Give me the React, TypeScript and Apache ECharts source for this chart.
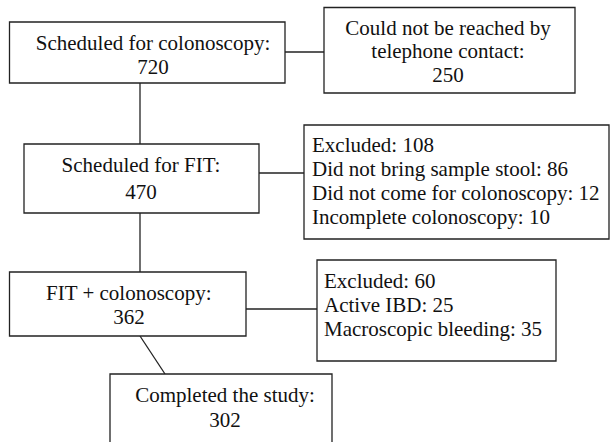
import React, { useEffect, useRef } from "react";
import * as echarts from "echarts";

// Flow stages (main column) and their counts
const stageLabels = ["Scheduled for colonoscopy:", "Scheduled for FIT:", "FIT + colonoscopy:", "Completed the study:"];
const stageCounts = [720, 470, 362, 302];

// Side boxes: exclusions
const lostLines = ["Could not be reached by", "telephone contact:", "250"];
const excl1Labels = ["Excluded", "Did not bring sample stool", "Did not come for colonoscopy", "Incomplete colonoscopy"];
const excl1Counts = [108, 86, 12, 10];
const excl2Labels = ["Excluded", "Active IBD", "Macroscopic bleeding"];
const excl2Counts = [60, 25, 35];

// Layout (positions only)
const stageBoxes = [
  { x: 9.5, y: 22, w: 275.5, h: 61, tx: 153, ty: [43, 67] },
  { x: 24, y: 144, w: 235, h: 69, tx: 141, ty: [165, 192] },
  { x: 9.5, y: 272, w: 236.5, h: 64, tx: 129, ty: [293, 317] },
  { x: 110, y: 374, w: 222, h: 90, tx: 225, ty: [395, 420] },
];
const lostBox = { x: 324, y: 7.5, w: 251, h: 85.5, tx: 448, ty: [28, 51, 75] };
const excl1Box = { x: 304, y: 125, w: 305, h: 114, tx: 312, ty: [145, 169, 193, 217] };
const excl2Box = { x: 317, y: 260, w: 239, h: 101, tx: 324, ty: [281, 305, 329] };

const FONT_SIZE = 21;
const FONT_FAMILY = "Liberation Serif";
const STROKE = "#222";
const LW = 1.3;

let ctx: CanvasRenderingContext2D | null = null;
function measure(str: string): number {
  if (!ctx) ctx = document.createElement("canvas").getContext("2d");
  if (!ctx) return str.length * FONT_SIZE * 0.45;
  ctx.font = `${FONT_SIZE}px "${FONT_FAMILY}"`;
  return ctx.measureText(str).width;
}

function rect(b: { x: number; y: number; w: number; h: number }) {
  return {
    type: "rect",
    shape: { x: b.x, y: b.y, width: b.w, height: b.h },
    style: { fill: "#fff", stroke: STROKE, lineWidth: LW },
  };
}
// x/y are the visual centre (for centred) or left edge (for left) and the line's middle
function text(str: string, x: number, cy: number, centred: boolean) {
  const left = centred ? x - measure(str) / 2 : x;
  return {
    type: "text",
    style: {
      text: str,
      x: left,
      y: cy - FONT_SIZE / 2,
      fontSize: FONT_SIZE,
      fontFamily: FONT_FAMILY,
      fill: "#111",
    },
  };
}
function line(x1: number, y1: number, x2: number, y2: number) {
  return {
    type: "line",
    shape: { x1, y1, x2, y2 },
    style: { stroke: STROKE, lineWidth: LW },
  };
}

export default function App() {
  const ref = useRef<HTMLDivElement>(null);
  useEffect(() => {
    if (!ref.current) return;
    const chart = echarts.init(ref.current, null, { renderer: "svg" });
    const els: any[] = [];
    // connectors
    els.push(line(140, 83, 140, 144));
    els.push(line(140, 213, 140, 272));
    els.push(line(140, 336, 165, 374));
    els.push(line(285, 52, 324, 52));
    els.push(line(259, 173, 304, 173));
    els.push(line(246, 309, 317, 309));
    // stage boxes
    stageBoxes.forEach((b, i) => {
      els.push(rect(b));
      els.push(text(stageLabels[i], b.tx, b.ty[0], true));
      els.push(text(String(stageCounts[i]), b.tx, b.ty[1], true));
    });
    // lost box
    els.push(rect(lostBox));
    lostLines.forEach((s, i) => els.push(text(s, lostBox.tx, lostBox.ty[i], true)));
    // exclusion boxes
    els.push(rect(excl1Box));
    excl1Labels.forEach((s, i) => els.push(text(`${s}: ${excl1Counts[i]}`, excl1Box.tx, excl1Box.ty[i], false)));
    els.push(rect(excl2Box));
    excl2Labels.forEach((s, i) => els.push(text(`${s}: ${excl2Counts[i]}`, excl2Box.tx, excl2Box.ty[i], false)));

    chart.setOption({
      animation: false,
      backgroundColor: "#fff",
      graphic: { elements: els },
    });
    return () => chart.dispose();
  }, []);
  return <div ref={ref} style={{ position: "fixed", left: 0, top: 0, width: 610, height: 442, background: "#fff" }} />;
}
